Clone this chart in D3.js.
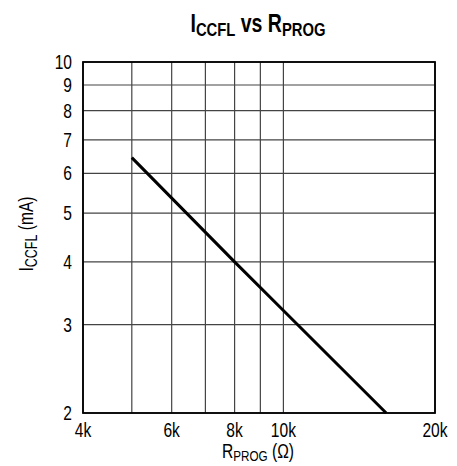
<!DOCTYPE html>
<html>
<head>
<meta charset="utf-8">
<script src="https://cdn.jsdelivr.net/npm/d3@7"></script>
<style>
  body { margin: 0; background: #fff; }
  text { font-family: "Liberation Sans", Arial, sans-serif; fill: #000; }
</style>
</head>
<body>
<svg id="chart" width="457" height="466"></svg>
<script>
// grid values (k ohm / mA)
var xGrid = [4, 5, 6, 7, 8, 9, 10, 20];
var xTickLabels = [4, 6, 8, 10, 20];
var yGrid = [2, 3, 4, 5, 6, 7, 8, 9, 10];
var rprog = [5, 8, 10, 16];
var iccfl = [6.45, 4, 3.2, 2];

var margin = {left: 83, right: 22, top: 62, bottom: 53};
var W = 457, H = 466;
var SX = 0.78; // squeeze to look like a narrow font
var svg = d3.select("#chart");

var x = d3.scaleLog().domain([4, 20]).range([margin.left, W - margin.right]);
var y = d3.scaleLog().domain([2, 10]).range([H - margin.bottom, margin.top]);

// narrow text helper
function ntext(parent, tx, ty, anchor, size, rot) {
    var tr = "translate(" + tx + "," + ty + ")" + (rot ? " rotate(" + rot + ")" : "") + " scale(" + SX + ",1)";
    return parent.append("g").attr("transform", tr)
        .append("text").attr("text-anchor", anchor).attr("font-size", size);
}

var g = svg.append("g");

// grid
g.selectAll(".vx").data(xGrid).enter().append("line")
    .attr("x1", d => x(d)).attr("x2", d => x(d))
    .attr("y1", y(2)).attr("y2", y(10))
    .attr("stroke", "#444").attr("stroke-width", 1.2);
g.selectAll(".hy").data(yGrid).enter().append("line")
    .attr("x1", x(4)).attr("x2", x(20))
    .attr("y1", d => y(d)).attr("y2", d => y(d))
    .attr("stroke", "#444").attr("stroke-width", 1.2);

// frame
g.append("rect")
    .attr("x", x(4)).attr("y", y(10))
    .attr("width", x(20) - x(4)).attr("height", y(2) - y(10))
    .attr("fill", "none").attr("stroke", "#000").attr("stroke-width", 1.8);

// tick labels
yGrid.forEach(function(d) {
    ntext(g, x(4) - 11, y(d) + 7, "end", 20).text(d);
});
xTickLabels.forEach(function(d) {
    ntext(g, x(d), y(2) + 24, "middle", 20).text(d + "k");
});

// data line
var line = d3.line().x((d, i) => x(rprog[i])).y(d => y(d));
g.append("path").datum(iccfl)
    .attr("d", line)
    .attr("fill", "none").attr("stroke", "#000").attr("stroke-width", 3);

// title
var t = ntext(svg, 258, 32, "middle", 25, 0).attr("font-weight", "bold");
t.append("tspan").text("I");
t.append("tspan").attr("font-size", 19).attr("dy", 4).text("CCFL");
t.append("tspan").attr("dy", -4).text(" vs R");
t.append("tspan").attr("font-size", 19).attr("dy", 4).text("PROG");

// x label
var xl = ntext(svg, 258, 458, "middle", 20, 0);
xl.append("tspan").text("R");
xl.append("tspan").attr("font-size", 15).attr("dy", 3).text("PROG");
xl.append("tspan").attr("dy", -3).text(" (\u03A9)");

// y label
var yl = ntext(svg, 33, 234, "middle", 20, -90);
yl.append("tspan").text("I");
yl.append("tspan").attr("font-size", 16).attr("dy", 4).text("CCFL");
yl.append("tspan").attr("dy", -4).text(" (mA)");
</script>
</body>
</html>
